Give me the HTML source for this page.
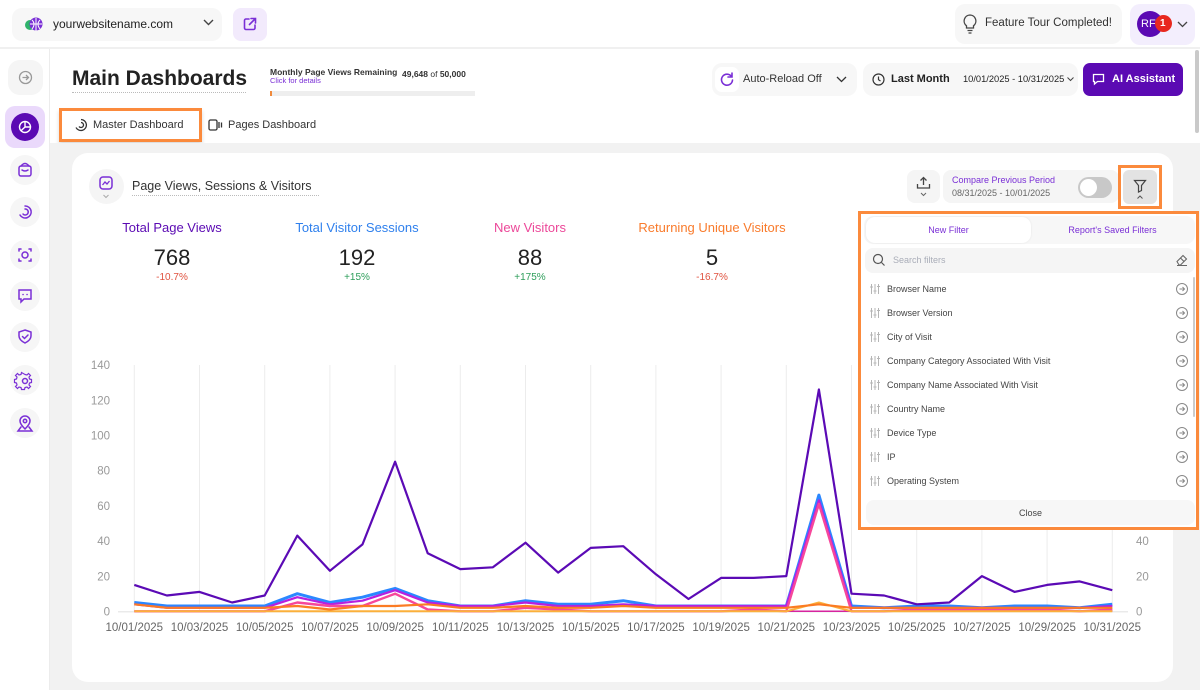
<!DOCTYPE html>
<html><head><meta charset="utf-8">
<style>
*{box-sizing:border-box;margin:0;padding:0}
html,body{width:1200px;height:690px;overflow:hidden;background:#fff;font-family:"Liberation Sans",Arial,sans-serif;color:#222}
.a{position:absolute}
.t{position:absolute;white-space:nowrap;line-height:1}
.sb{position:absolute;left:10px;width:30px;height:30px;border-radius:50%;background:#f6f6f6}
.fi{position:absolute;left:887px;font-size:9px;color:#444;white-space:nowrap;line-height:1}
</style></head><body>

<!-- top bar -->
<div class="a" style="left:0;top:47px;width:1200px;height:2px;background:#f0f0f0"></div>
<div class="a" style="left:12px;top:8px;width:210px;height:33px;background:#f7f7f7;border-radius:10px"></div>
<svg class="a" style="left:24px;top:16px" width="20" height="17" viewBox="0 0 20 17"><circle cx="6" cy="9" r="5" fill="#2fb36b"/><circle cx="12" cy="8" r="6.5" fill="#7a2fd6"/><path d="M6 8h12M12 2v13M8 4q4 4 0 9M16 4q-4 4 0 9" stroke="#fff" stroke-width="1" fill="none"/></svg>
<div class="t" style="left:53px;top:18px;font-size:12px;color:#222">yourwebsitename.com</div>
<svg class="a" style="left:203px;top:19px" width="11" height="8"><path d="M1 1l4.5 4.5L10 1" stroke="#444" stroke-width="1.4" fill="none"/></svg>
<div class="a" style="left:233px;top:8px;width:34px;height:33px;background:#f2eafc;border-radius:8px"></div>
<svg class="a" style="left:243px;top:17px" width="14" height="14" viewBox="0 0 14 14"><path d="M6 2H3a1.5 1.5 0 0 0-1.5 1.5v7.5A1.5 1.5 0 0 0 3 12.5h7.5A1.5 1.5 0 0 0 12 11V8M8 1.5h4.5V6M12.5 1.5L6.5 7.5" stroke="#7a2fd6" stroke-width="1.6" fill="none" stroke-linecap="round"/></svg>

<div class="a" style="left:955px;top:4px;width:167px;height:40px;background:#f7f7f7;border-radius:10px"></div>
<svg class="a" style="left:963px;top:14px" width="14" height="20" viewBox="0 0 14 20"><path d="M7 1a6 6 0 0 0-3.5 10.8V14h7v-2.2A6 6 0 0 0 7 1zM4.5 16.5h5M5.5 19h3" stroke="#444" stroke-width="1.3" fill="none"/></svg>
<div class="t" style="left:985px;top:18px;font-size:11.5px;color:#333">Feature Tour Completed!</div>
<div class="a" style="left:1130px;top:4px;width:65px;height:41px;background:#f3eefd;border-radius:10px"></div>
<div class="a" style="left:1137px;top:11px;width:26px;height:26px;border-radius:50%;background:#5b0ab3"></div>
<div class="t" style="left:1141px;top:19px;font-size:11px;color:#fff">RF</div>
<div class="a" style="left:1155px;top:15px;width:17px;height:17px;border-radius:50%;background:#e8281f"></div>
<div class="t" style="left:1160px;top:19px;font-size:10px;font-weight:bold;color:#fff">1</div>
<svg class="a" style="left:1177px;top:21px" width="11" height="7"><path d="M1 1l4.5 4.5L10 1" stroke="#444" stroke-width="1.3" fill="none"/></svg>

<!-- sidebar -->
<div class="a" style="left:49px;top:49px;width:1px;height:641px;background:#ececec"></div>
<div class="sb" style="left:8px;top:60px;width:35px;height:35px;border-radius:12px;background:#f5f5f5"></div>
<svg class="a" style="left:18px;top:70px" width="15" height="15" viewBox="0 0 15 15"><circle cx="7.5" cy="7.5" r="6" stroke="#999" stroke-width="1.3" fill="none"/><path d="M4.5 7.5h6M8 5l2.5 2.5L8 10" stroke="#999" stroke-width="1.3" fill="none"/></svg>
<div class="a" style="left:5px;top:106px;width:40px;height:42px;border-radius:10px;background:#ead9fb"></div>
<div class="a" style="left:11px;top:113px;width:28px;height:28px;border-radius:50%;background:#5b0ab3"></div>
<svg class="a" style="left:18px;top:120px" width="14" height="14" viewBox="0 0 14 14"><circle cx="7" cy="7" r="5.5" stroke="#fff" stroke-width="1.4" fill="none"/><path d="M7 1.5v5.5h5.5M7 7l-4 3.8" stroke="#fff" stroke-width="1.4" fill="none"/></svg>
<div class="sb" style="top:155px"></div>
<div class="sb" style="top:197px"></div>
<div class="sb" style="top:240px"></div>
<div class="sb" style="top:281px"></div>
<div class="sb" style="top:322px"></div>
<div class="sb" style="top:365px"></div>
<div class="sb" style="top:408px"></div>
<svg class="a" style="left:0;top:150px" width="50" height="290" viewBox="0 150 50 290" fill="none" stroke="#7a2fd6" stroke-width="1.5" stroke-linecap="round">
<rect x="19" y="166" width="12" height="10" rx="2"/><path d="M21 166q4-5 8 0M22 170q3 2 6 0"/>
<path d="M25 206a6 6 0 1 1-5 9M25 209a3 3 0 1 1-2 5"/>
<path d="M19 251v-2h2M29 249h2v2M31 259v2h-2M21 261h-2v-2"/><circle cx="25" cy="255" r="3"/>
<path d="M19 290h12v9h-7l-3 3v-3h-2z"/><path d="M23 294.5h.1M27 294.5h.1"/>
<path d="M25 330l6 2v4q0 4-6 7q-6-3-6-7v-4z"/><path d="M22.5 336.5l2 2 3.5-3.5"/>
<circle cx="25" cy="381" r="2.5"/><path d="M25 374.5l2 .5 1.5-1.5 2 2-1.5 1.5.5 2 2 .5v3l-2 .5-.5 2 1.5 1.5-2 2-1.5-1.5-2 .5-.5 2h-3l-.5-2-2-.5-1.5 1.5-2-2 1.5-1.5-.5-2-2-.5v-3l2-.5.5-2-1.5-1.5 2-2 1.5 1.5 2-.5.5-2z" stroke-width="1.2"/>
<path d="M25 429q-5-5-5-8a5 5 0 0 1 10 0q0 3-5 8z"/><circle cx="25" cy="421" r="1.7"/><path d="M21 427l-3 4h14l-3-4"/>
</svg>

<!-- header -->
<div class="t" style="left:72px;top:68px;font-size:21px;font-weight:bold;color:#222">Main Dashboards</div>
<div class="a" style="left:72px;top:92px;width:174px;border-top:1px dotted #bbb"></div>
<div class="t" style="left:270px;top:68px;font-size:8.5px;font-weight:bold;color:#333">Monthly Page Views Remaining</div>
<div class="t" style="left:270px;top:77px;font-size:7.5px;color:#7a2fd6">Click for details</div>
<div class="t" style="left:402px;top:70px;font-size:8.5px;font-weight:bold;color:#333">49,648 <span style="font-weight:normal">of</span> 50,000</div>
<div class="a" style="left:270px;top:91px;width:205px;height:5px;background:#eeeeee"></div>
<div class="a" style="left:270px;top:91px;width:2px;height:5px;background:#f08a3c"></div>

<div class="a" style="left:712px;top:63px;width:145px;height:33px;background:#f7f7f7;border-radius:10px"></div>
<div class="a" style="left:715px;top:67px;width:24px;height:25px;background:#fff;border-radius:7px"></div>
<svg class="a" style="left:720px;top:72px" width="14" height="15" viewBox="0 0 14 15"><path d="M11.5 4.5A5.5 5.5 0 1 0 12.5 8M12 1v4H8" stroke="#7a2fd6" stroke-width="1.6" fill="none" stroke-linecap="round"/></svg>
<div class="t" style="left:743px;top:74px;font-size:11px;color:#333">Auto-Reload Off</div>
<svg class="a" style="left:836px;top:76px" width="11" height="7"><path d="M1 1l4.5 4.5L10 1" stroke="#333" stroke-width="1.3" fill="none"/></svg>
<div class="a" style="left:863px;top:63px;width:215px;height:33px;background:#f7f7f7;border-radius:10px"></div>
<svg class="a" style="left:872px;top:73px" width="13" height="13"><circle cx="6.5" cy="6.5" r="5.5" stroke="#333" stroke-width="1.2" fill="none"/><path d="M6.5 3.5v3.2l2 1.3" stroke="#333" stroke-width="1.2" fill="none"/></svg>
<div class="t" style="left:891px;top:74px;font-size:11px;font-weight:bold;color:#222">Last Month</div>
<div class="t" style="left:963px;top:75px;font-size:9.3px;color:#222">10/01/2025 - 10/31/2025</div>
<svg class="a" style="left:1067px;top:77px" width="7" height="5"><path d="M.5.5l3 3 3-3" stroke="#444" stroke-width="1" fill="none"/></svg>
<div class="a" style="left:1083px;top:63px;width:100px;height:33px;background:#5b0ab3;border-radius:7px"></div>
<svg class="a" style="left:1092px;top:73px" width="13" height="13" viewBox="0 0 13 13"><path d="M1.5 1.5h10v7h-6l-3 2.5v-2.5h-1z" stroke="#fff" stroke-width="1.3" fill="none"/><path d="M5 5h.1M8 5h.1" stroke="#fff" stroke-width="1.5"/></svg>
<div class="t" style="left:1112px;top:74px;font-size:11px;font-weight:bold;color:#fff">AI Assistant</div>
<div class="a" style="left:1195px;top:50px;width:4px;height:83px;background:#c9c9c9;border-radius:2px"></div>

<!-- tabs -->
<div class="a" style="left:59px;top:108px;width:143px;height:34px;border:3px solid #fb8a3c;background:#fff;box-shadow:0 3px 4px rgba(0,0,0,.15)"></div>
<svg class="a" style="left:74px;top:118px" width="14" height="14" viewBox="0 0 14 14"><path d="M7 1.5a5.5 5.5 0 1 1-5 8M7 4.5a2.5 2.5 0 1 1-2 4" stroke="#333" stroke-width="1.3" fill="none"/></svg>
<div class="t" style="left:93px;top:120px;font-size:11px;color:#333">Master Dashboard</div>
<svg class="a" style="left:208px;top:119px" width="15" height="12"><rect x="1" y="1" width="8" height="10" rx="1.5" stroke="#333" stroke-width="1.3" fill="none"/><path d="M11 3v6M13.5 3.5v5" stroke="#333" stroke-width="1.3"/></svg>
<div class="t" style="left:228px;top:120px;font-size:11px;color:#333">Pages Dashboard</div>

<!-- gray bg -->
<div class="a" style="left:50px;top:143px;width:1150px;height:547px;background:#f2f2f2"></div>
<!-- card -->
<div class="a" style="left:72px;top:153px;width:1101px;height:529px;background:#fff;border-radius:16px"></div>

<div class="a" style="left:89px;top:169px;width:35px;height:35px;border-radius:50%;background:#f5f5f5"></div>
<svg class="a" style="left:98px;top:175px" width="17" height="26" viewBox="0 0 17 26"><rect x="2" y="2" width="12" height="12" rx="3" stroke="#7a2fd6" stroke-width="1.5" fill="none"/><path d="M4.5 10l2.5-3 2 2 2.5-3" stroke="#7a2fd6" stroke-width="1.3" fill="none"/><path d="M5.5 20l2.5 2.5 2.5-2.5" stroke="#aaa" stroke-width="1" fill="none"/></svg>
<div class="t" style="left:132px;top:180px;font-size:12.5px;color:#333">Page Views, Sessions &amp; Visitors</div>
<div class="a" style="left:132px;top:195px;width:187px;border-top:1px dotted #bbb"></div>

<!-- metrics -->
<div class="t" style="left:72px;width:200px;text-align:center;top:221px;font-size:13px;color:#5b0ab3">Total Page Views</div>
<div class="t" style="left:72px;width:200px;text-align:center;top:247px;font-size:22px;color:#222">768</div>
<div class="t" style="left:72px;width:200px;text-align:center;top:273px;font-size:10px;color:#e0523f">-10.7%</div>
<div class="t" style="left:257px;width:200px;text-align:center;top:221px;font-size:13px;color:#2f80ed">Total Visitor Sessions</div>
<div class="t" style="left:257px;width:200px;text-align:center;top:247px;font-size:22px;color:#222">192</div>
<div class="t" style="left:257px;width:200px;text-align:center;top:273px;font-size:10px;color:#2e9e5b">+15%</div>
<div class="t" style="left:430px;width:200px;text-align:center;top:221px;font-size:13px;color:#ec4899">New Visitors</div>
<div class="t" style="left:430px;width:200px;text-align:center;top:247px;font-size:22px;color:#222">88</div>
<div class="t" style="left:430px;width:200px;text-align:center;top:273px;font-size:10px;color:#2e9e5b">+175%</div>
<div class="t" style="left:612px;width:200px;text-align:center;top:221px;font-size:13px;color:#f97b2c">Returning Unique Visitors</div>
<div class="t" style="left:612px;width:200px;text-align:center;top:247px;font-size:22px;color:#222">5</div>
<div class="t" style="left:612px;width:200px;text-align:center;top:273px;font-size:10px;color:#e0523f">-16.7%</div>

<!-- chart -->
<svg class="a" style="left:0;top:0" width="1200" height="690" viewBox="0 0 1200 690">
<g stroke="#ececec" stroke-width="1">
<line x1="134.3" y1="365" x2="134.3" y2="611"/><line x1="199.5" y1="365" x2="199.5" y2="611"/><line x1="264.7" y1="365" x2="264.7" y2="611"/><line x1="329.9" y1="365" x2="329.9" y2="611"/><line x1="395.1" y1="365" x2="395.1" y2="611"/><line x1="460.3" y1="365" x2="460.3" y2="611"/><line x1="525.5" y1="365" x2="525.5" y2="611"/><line x1="590.7" y1="365" x2="590.7" y2="611"/><line x1="655.9" y1="365" x2="655.9" y2="611"/><line x1="721.1" y1="365" x2="721.1" y2="611"/><line x1="786.3" y1="365" x2="786.3" y2="611"/><line x1="851.5" y1="365" x2="851.5" y2="611"/><line x1="916.7" y1="365" x2="916.7" y2="611"/><line x1="981.9" y1="365" x2="981.9" y2="611"/><line x1="1047.1" y1="365" x2="1047.1" y2="611"/><line x1="1112.3" y1="365" x2="1112.3" y2="611"/>
</g>
<line x1="118" y1="611.8" x2="1128" y2="611.8" stroke="#e4e4e4" stroke-width="1.2"/>
<g font-family="Liberation Sans, Arial, sans-serif" font-size="11.5" fill="#999" text-anchor="end">
<text x="110" y="615.5">0</text><text x="110" y="580.3">20</text><text x="110" y="545.1">40</text><text x="110" y="509.9">60</text><text x="110" y="474.7">80</text><text x="110" y="439.5">100</text><text x="110" y="404.3">120</text><text x="110" y="369.1">140</text>
</g>
<g font-family="Liberation Sans, Arial, sans-serif" font-size="11.5" fill="#999" text-anchor="start">
<text x="1136" y="615.5">0</text><text x="1136" y="580.3">20</text><text x="1136" y="545.1">40</text><text x="1136" y="509.9">60</text>
</g>
<g font-family="Liberation Sans, Arial, sans-serif" font-size="11.5" fill="#666" text-anchor="middle">
<text x="134.3" y="631">10/01/2025</text><text x="199.5" y="631">10/03/2025</text><text x="264.7" y="631">10/05/2025</text><text x="329.9" y="631">10/07/2025</text><text x="395.1" y="631">10/09/2025</text><text x="460.3" y="631">10/11/2025</text><text x="525.5" y="631">10/13/2025</text><text x="590.7" y="631">10/15/2025</text><text x="655.9" y="631">10/17/2025</text><text x="721.1" y="631">10/19/2025</text><text x="786.3" y="631">10/21/2025</text><text x="851.5" y="631">10/23/2025</text><text x="916.7" y="631">10/25/2025</text><text x="981.9" y="631">10/27/2025</text><text x="1047.1" y="631">10/29/2025</text><text x="1112.3" y="631">10/31/2025</text>
</g>
<g fill="none" stroke-linejoin="round">
<line x1="134.3" y1="611.3" x2="1112.3" y2="611.3" stroke="#d6249f" stroke-width="1.5"/>
<polyline stroke="#2b87ff" stroke-width="3" points="134.3,602.5 166.9,606.0 199.5,606.0 232.1,606.0 264.7,606.0 297.3,593.7 329.9,602.5 362.5,597.2 395.1,588.4 427.7,600.7 460.3,606.0 492.9,606.0 525.5,600.7 558.1,604.3 590.7,604.3 623.3,600.7 655.9,606.0 688.5,606.0 721.1,606.0 753.7,606.0 786.3,606.0 818.9,495.1 851.5,606.0 884.1,607.8 916.7,606.0 949.3,606.0 981.9,607.8 1014.5,606.0 1047.1,606.0 1079.7,607.8 1112.3,604.3"/>
<polyline stroke="#b620e0" stroke-width="2.2" points="134.3,604.3 166.9,607.8 199.5,607.8 232.1,607.8 264.7,607.8 297.3,597.2 329.9,604.3 362.5,600.7 395.1,590.2 427.7,602.5 460.3,606.0 492.9,606.0 525.5,602.5 558.1,606.0 590.7,606.0 623.3,604.3 655.9,606.0 688.5,606.0 721.1,606.0 753.7,606.0 786.3,606.0 818.9,500.4 851.5,607.8 884.1,607.8 916.7,607.8 949.3,607.8 981.9,607.8 1014.5,607.8 1047.1,607.8 1079.7,607.8 1112.3,606.0"/>
<polyline stroke="#f6479a" stroke-width="2.4" points="134.3,611.3 166.9,611.3 199.5,611.3 232.1,611.3 264.7,611.3 297.3,602.5 329.9,606.0 362.5,606.0 395.1,593.7 427.7,609.5 460.3,611.3 492.9,611.3 525.5,607.8 558.1,609.5 590.7,611.3 623.3,611.3 655.9,611.3 688.5,611.3 721.1,611.3 753.7,609.5 786.3,611.3 818.9,503.9 851.5,611.3 884.1,611.3 916.7,609.5 949.3,609.5 981.9,609.5 1014.5,609.5 1047.1,609.5 1079.7,611.3 1112.3,609.5"/>
<polyline stroke="#fbb03b" stroke-width="2" points="134.3,611.3 786.3,611.3 818.9,602.5 851.5,611.3 1112.3,611.3"/>
<polyline stroke="#fb7b23" stroke-width="2.2" points="134.3,604.3 166.9,607.8 199.5,607.8 232.1,607.8 264.7,607.8 297.3,606.0 329.9,609.5 362.5,606.0 395.1,606.0 427.7,604.3 460.3,607.8 492.9,607.8 525.5,606.0 558.1,607.8 590.7,607.8 623.3,606.0 655.9,607.8 688.5,607.8 721.1,607.8 753.7,607.8 786.3,607.8 818.9,604.3 851.5,607.8 884.1,607.8 916.7,607.8 949.3,607.8 981.9,607.8 1014.5,607.8 1047.1,607.8 1079.7,607.8 1112.3,607.8"/>
<polyline stroke="#5b0ab5" stroke-width="2.2" points="134.3,584.9 166.9,595.5 199.5,591.9 232.1,602.5 264.7,595.5 297.3,535.6 329.9,570.8 362.5,544.4 395.1,461.7 427.7,553.2 460.3,569.1 492.9,567.3 525.5,542.7 558.1,572.6 590.7,547.9 623.3,546.2 655.9,574.3 688.5,599.0 721.1,577.9 753.7,577.9 786.3,576.1 818.9,389.5 851.5,593.7 884.1,595.5 916.7,604.3 949.3,602.5 981.9,576.1 1014.5,591.9 1047.1,584.9 1079.7,581.4 1112.3,590.2"/>
</g>
</svg>

<!-- card top-right controls -->
<div class="a" style="left:907px;top:170px;width:33px;height:33px;background:#f5f5f5;border-radius:8px"></div>
<svg class="a" style="left:916px;top:176px" width="15" height="22" viewBox="0 0 15 22"><path d="M7.5 9V1.5M4.5 4.5l3-3 3 3M1.5 8v4h12V8" stroke="#444" stroke-width="1.3" fill="none"/><path d="M5 17l2.5 2.5L10 17" stroke="#666" stroke-width="1" fill="none"/></svg>
<div class="a" style="left:943px;top:170px;width:176px;height:33px;background:#f5f5f5;border-radius:8px"></div>
<div class="t" style="left:952px;top:176px;font-size:9px;color:#7a2fd6">Compare Previous Period</div>
<div class="t" style="left:952px;top:189px;font-size:9px;color:#666">08/31/2025 - 10/01/2025</div>
<div class="a" style="left:1078px;top:177px;width:34px;height:21px;border-radius:11px;background:#c8c8c8"></div>
<div class="a" style="left:1080px;top:179px;width:17px;height:17px;border-radius:50%;background:#fff"></div>
<div class="a" style="left:1118px;top:165px;width:44px;height:44px;border:3px solid #fb8a3c;background:#fff"></div>
<div class="a" style="left:1123px;top:170px;width:34px;height:34px;background:#e3e3e3;border-radius:6px"></div>
<svg class="a" style="left:1133px;top:179px" width="14" height="22" viewBox="0 0 14 22"><path d="M1.5 1.5h11l-4 5v5l-3 1.5v-6.5z" stroke="#444" stroke-width="1.2" fill="none"/><path d="M4.5 19.5l2.5-2.5 2.5 2.5" stroke="#555" stroke-width="1" fill="none"/></svg>

<!-- filter panel -->
<div class="a" style="left:858px;top:211px;width:341px;height:319px;border:3px solid #fb8a3c;background:#fff"></div>
<div class="a" style="left:864px;top:216px;width:331px;height:28px;background:#f7f7f7;border-radius:9px"></div>
<div class="a" style="left:866px;top:217px;width:165px;height:26px;background:#fff;border-radius:9px;box-shadow:0 0 2px rgba(0,0,0,.08)"></div>
<div class="t" style="left:866px;width:165px;text-align:center;top:226px;font-size:9px;color:#7a2fd6">New Filter</div>
<div class="t" style="left:1031px;width:163px;text-align:center;top:226px;font-size:9px;color:#7a2fd6">Report's Saved Filters</div>
<div class="a" style="left:865px;top:248px;width:330px;height:25px;background:#f5f5f5;border-radius:8px"></div>
<svg class="a" style="left:872px;top:253px" width="14" height="14"><circle cx="6" cy="6" r="4.5" stroke="#555" stroke-width="1.2" fill="none"/><path d="M9.5 9.5l3 3" stroke="#555" stroke-width="1.2"/></svg>
<div class="t" style="left:893px;top:256px;font-size:9px;color:#a9adb8">Search filters</div>
<svg class="a" style="left:1175px;top:253px" width="14" height="14" viewBox="0 0 14 14"><path d="M2 8.5l6-6 3.5 3.5-6 6H4z M5.5 5l3.5 3.5M2 12.5h10" stroke="#666" stroke-width="1.1" fill="none"/></svg>

<div class="a" style="left:1193px;top:277px;width:2px;height:140px;background:#ccc;border-radius:1px"></div>

<div class="fi" style="top:285px">Browser Name</div>
<div class="fi" style="top:309px">Browser Version</div>
<div class="fi" style="top:333px">City of Visit</div>
<div class="fi" style="top:357px">Company Category Associated With Visit</div>
<div class="fi" style="top:381px">Company Name Associated With Visit</div>
<div class="fi" style="top:405px">Country Name</div>
<div class="fi" style="top:429px">Device Type</div>
<div class="fi" style="top:453px">IP</div>
<div class="fi" style="top:477px">Operating System</div>
<svg class="a" style="left:869px;top:282px" width="14" height="206" viewBox="0 0 14 206" stroke="#b5b5b5" stroke-width="1" fill="none">
<g id="ic"><path d="M2.5 2v10M6 2v10M9.5 2v10M1 5h3M4.5 9h3M8 4.5h3"/></g>
<use href="#ic" y="24"/><use href="#ic" y="48"/><use href="#ic" y="72"/><use href="#ic" y="96"/><use href="#ic" y="120"/><use href="#ic" y="144"/><use href="#ic" y="168"/><use href="#ic" y="192"/>
</svg>
<svg class="a" style="left:1175px;top:282px" width="15" height="206" viewBox="0 0 15 206" stroke="#888" stroke-width="1" fill="none">
<g id="ar"><circle cx="7" cy="7" r="5.5"/><path d="M4.5 7h5M7.5 5l2 2-2 2"/></g>
<use href="#ar" y="24"/><use href="#ar" y="48"/><use href="#ar" y="72"/><use href="#ar" y="96"/><use href="#ar" y="120"/><use href="#ar" y="144"/><use href="#ar" y="168"/><use href="#ar" y="192"/>
</svg>
<div class="a" style="left:866px;top:500px;width:329px;height:25px;background:#f7f7f7;border-radius:8px"></div>
<div class="t" style="left:866px;width:329px;text-align:center;top:509px;font-size:9px;color:#444">Close</div>

</body></html>
